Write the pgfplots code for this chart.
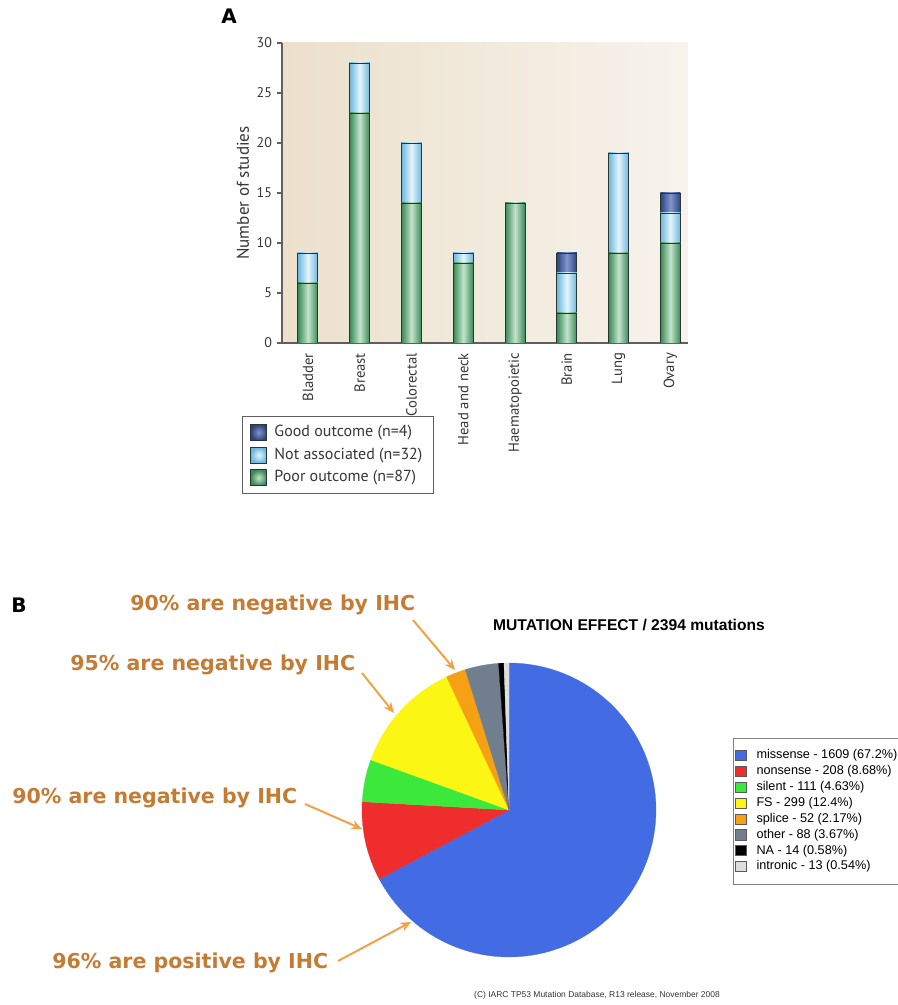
\documentclass[border=0pt]{standalone}
\usepackage{pgfplots}
\pgfplotsset{compat=1.18}
\usepackage{pgfplotstable}
\usetikzlibrary{arrows.meta}
\usepackage{fontspec}
\setmainfont{Liberation Sans}
\newfontfamily\ptsans{PT Sans}
\newfontfamily\dejavu{DejaVu Sans}

% panel A colours
\definecolor{poorEdge}{RGB}{58,136,88}
\definecolor{poorMid}{RGB}{196,228,204}
\definecolor{notEdge}{RGB}{108,182,222}
\definecolor{notMid}{RGB}{228,245,253}
\definecolor{goodEdge}{RGB}{46,66,128}
\definecolor{goodMid}{RGB}{130,150,204}
\definecolor{panelL}{RGB}{236,224,204}
\definecolor{panelR}{RGB}{247,243,236}
\definecolor{barLine}{RGB}{40,55,50}
\definecolor{axisGray}{RGB}{95,95,95}
\definecolor{labelGray}{RGB}{55,55,55}
% panel B colours
\definecolor{missense}{RGB}{66,107,228}
\definecolor{nonsense}{RGB}{240,45,45}
\definecolor{silent}{RGB}{60,232,60}
\definecolor{fs}{RGB}{252,246,20}
\definecolor{splice}{RGB}{246,160,20}
\definecolor{other}{RGB}{112,126,142}
\definecolor{na}{RGB}{0,0,0}
\definecolor{intronic}{RGB}{222,222,222}
\definecolor{annot}{RGB}{196,124,52}
\definecolor{arrowOr}{RGB}{240,162,72}

% number of studies per tumour site
\pgfplotstableread{
x poor notassoc good
0 6  3  0
1 23 5  0
2 14 6  0
3 8  1  0
4 14 0  0
5 3  4  2
6 9  10 0
7 10 3  2
}\studies

% one shaded bar segment (drawn tallest first, so the stack reads bottom-up)
\pgfplotsset{
  segment/.style n args={3}{forget plot, ybar, bar shift=0pt, bar width=15pt,
    draw=barLine, line width=0.6pt,
    left color=#1, right color=#1, middle color=#2,
    x filter/.expression={x==#3 ? x : nan}},
}

% pie slices, drawn clockwise from the top
\newcommand\mutationTotal{2394}
\gdef\cumul{0}
\newcommand\pieslice[3]{%
  \pgfmathsetmacro\sliceStart{90-360*(\cumul/\mutationTotal)}%
  \pgfmathsetmacro\cumulNext{\cumul+#1}%
  \global\let\cumul\cumulNext
  \pgfmathsetmacro\sliceEnd{90-360*(\cumul/\mutationTotal)}%
  \edef\doslice{\noexpand\addplot[fill=#2, draw=#2, line width=0.2pt,
      domain=\sliceEnd:\sliceStart, samples=90, variable=\noexpand\t]}%
  \doslice ({cos(\t)},{sin(\t)}) -- (axis cs:0,0) -- cycle;
  \addlegendentry{#3}%
}

\begin{document}
\begin{tikzpicture}[x=0.75pt,y=0.75pt]
\path[use as bounding box] (0,0) rectangle (898,1005);
\clip (0,0) rectangle (898,1005);

% ---------------- panel A ----------------
\node[font=\dejavu\bfseries\fontsize{15}{18}\selectfont] at (229,989) {A};
\begin{axis}[
  at={(211.5pt,496.5pt)}, anchor=south west,
  scale only axis, width=304.5pt, height=225pt,
  xmin=-0.5, xmax=7.34, ymin=0, ymax=30,
  axis x line=bottom, axis y line=left,
  axis line style={-, draw=axisGray, line width=0.8pt},
  axis background/.style={left color=panelL, right color=panelR, draw=none},
  xtick={0,...,7},
  xticklabels={Bladder, Breast, Colorectal, Head and neck, Haematopoietic, Brain, Lung, Ovary},
  x tick style={draw=none},
  ytick={0,5,...,30},
  y tick style={draw=axisGray, line width=0.8pt},
  tick align=outside, major tick length=4pt,
  /pgf/number format/assume math mode=true,
  yticklabel style={font=\ptsans\fontsize{10.5}{12}\selectfont, text=labelGray},
  xticklabel style={rotate=90, anchor=east, font=\ptsans\fontsize{11}{13}\selectfont, text=labelGray},
  ylabel={Number of studies},
  every axis y label/.style={at={(axis description cs:-0.096,0.5)}, rotate=90, anchor=center,
    font=\ptsans\fontsize{12.8}{14}\selectfont, text=labelGray},
  legend cell align=left,
  legend image code/.code={\draw[#1, draw=barLine, line width=0.5pt] (0pt,-6pt) rectangle (12pt,6pt);
    \path (15pt,0pt);},
  legend style={at={(-0.0985,-0.2433)}, anchor=north west, draw=axisGray, line width=0.6pt,
    font=\ptsans\fontsize{12}{14}\selectfont, text=labelGray,
    inner xsep=6pt, inner ysep=3.5pt, row sep=0pt,
    nodes={inner xsep=2.5pt, inner ysep=2.5pt, text height=9pt, text depth=3pt}},
]
\addlegendimage{inner color=goodMid, outer color=goodEdge}
\addlegendentry{Good outcome (n=4)}
\addlegendimage{inner color=notMid, outer color=notEdge}
\addlegendentry{Not associated (n=32)}
\addlegendimage{inner color=poorMid, outer color=poorEdge}
\addlegendentry{Poor outcome (n=87)}
\pgfplotsinvokeforeach{0,...,7}{
  \addplot[segment={goodEdge}{goodMid}{#1}]
    table[x=x, y expr=\thisrow{poor}+\thisrow{notassoc}+\thisrow{good}]{\studies};
  \addplot[segment={notEdge}{notMid}{#1}]
    table[x=x, y expr=\thisrow{poor}+\thisrow{notassoc}]{\studies};
  \addplot[segment={poorEdge}{poorMid}{#1}]
    table[x=x, y=poor]{\studies};
}
\end{axis}

% ---------------- panel B ----------------
\node[font=\dejavu\bfseries\fontsize{15}{18}\selectfont] at (19,400) {B};
\node[font=\bfseries\fontsize{11.7}{13}\selectfont] at (629,380) {MUTATION EFFECT / 2394 mutations};
\begin{axis}[
  at={(381.75pt,146.25pt)}, anchor=center,
  scale only axis, width=220.5pt, height=220.5pt,
  xmin=-1, xmax=1, ymin=-1, ymax=1,
  hide axis, clip=false,
  legend cell align=left,
  legend image code/.code={\draw[#1, draw=gray!70!black, line width=0.4pt] (0pt,-3.6pt) rectangle (7.6pt,4pt);
    \path (14pt,0pt);},
  legend style={at={(1.262,0.745)}, anchor=north west, draw=gray, line width=0.6pt,
    font=\fontsize{9.5}{11}\selectfont, inner xsep=1.5pt, inner ysep=7pt, row sep=0pt,
    nodes={inner ysep=1.4pt, inner xsep=1.5pt, text height=7pt, text depth=2.1pt}},
]
\pieslice{1609}{missense}{missense - 1609 (67.2\%)}
\pieslice{208}{nonsense}{nonsense - 208 (8.68\%)}
\pieslice{111}{silent}{silent - 111 (4.63\%)}
\pieslice{299}{fs}{FS - 299 (12.4\%)}
\pieslice{52}{splice}{splice - 52 (2.17\%)}
\pieslice{88}{other}{other - 88 (3.67\%)}
\pieslice{14}{na}{NA - 14 (0.58\%)}
\pieslice{13}{intronic}{intronic - 13 (0.54\%)}
\end{axis}

\node[font=\fontsize{6.35}{8}\selectfont, text=black!80] at (597,10)
  {(C) IARC TP53 Mutation Database, R13 release, November 2008};

% IHC annotations
\begin{scope}[every node/.style={font=\dejavu\bfseries\fontsize{15.4}{18}\selectfont, text=annot, anchor=west, inner sep=0pt}]
\node at (130,400) {90\% are negative by IHC};
\node at (70,340) {95\% are negative by IHC};
\node at (12,207) {90\% are negative by IHC};
\node at (52,42) {96\% are positive by IHC};
\end{scope}
\begin{scope}[arrowOr, line width=1.5pt, -{Stealth[length=8pt,width=7pt]}]
\draw (413,385) -- (455,335);
\draw (362,332) -- (394,292);
\draw (305,201) -- (362,176);
\draw (338,44) -- (411,83);
\end{scope}
\end{tikzpicture}
\end{document}
